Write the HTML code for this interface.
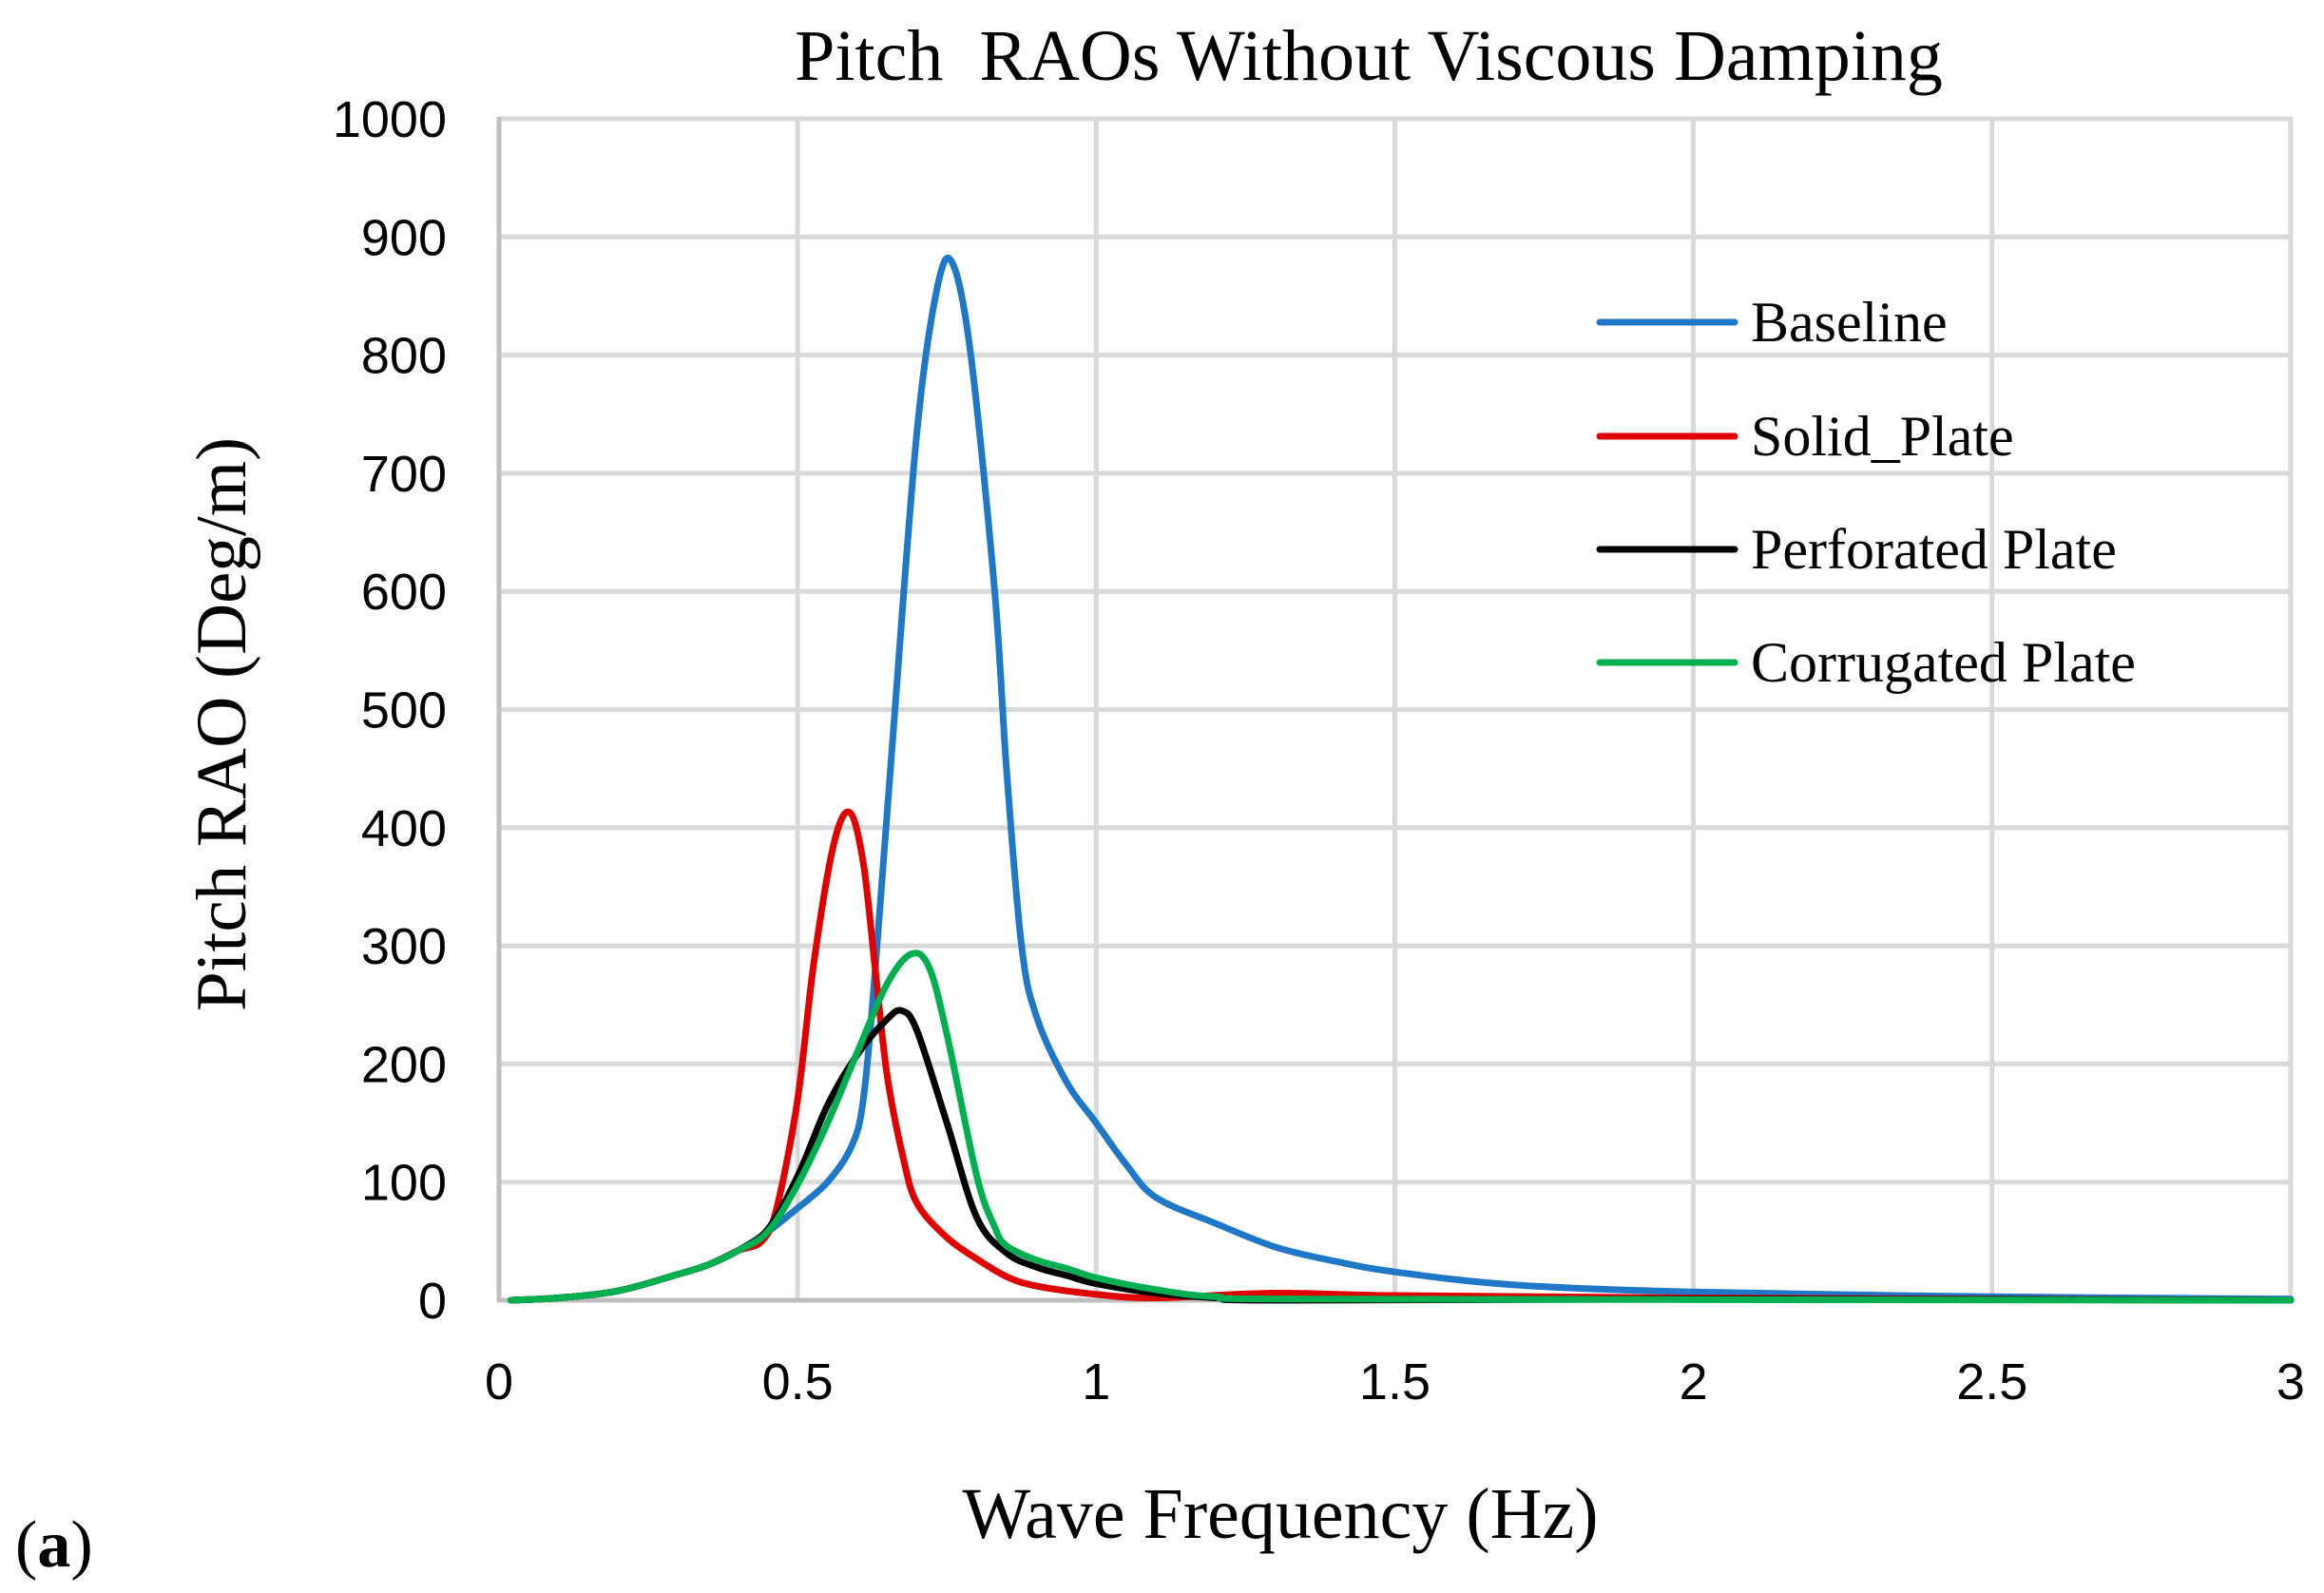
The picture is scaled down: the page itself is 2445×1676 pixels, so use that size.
<!DOCTYPE html>
<html><head><meta charset="utf-8"><style>
html,body{margin:0;padding:0;background:#fff;}
svg{display:block;}
</style></head><body>
<svg id="c" width="2445" height="1676" xmlns="http://www.w3.org/2000/svg">
<g id="grid"></g>
<g id="series" fill="none" stroke-width="7" stroke-linejoin="round" stroke-linecap="round"></g>
<text x="1440" y="84" font-family="Liberation Serif, serif" font-size="76" text-anchor="middle" xml:space="preserve">Pitch  RAOs Without Viscous Damping</text>
<text transform="translate(258,762) rotate(-90)" font-family="Liberation Serif, serif" font-size="75" text-anchor="middle">Pitch RAO (Deg/m)</text>
<text x="1347" y="1618" font-family="Liberation Serif, serif" font-size="76" text-anchor="middle">Wave Frequency (Hz)</text>
<text x="16" y="1648" font-family="Liberation Serif, serif" font-size="70"><tspan>(</tspan><tspan font-weight="bold">a</tspan><tspan>)</tspan></text>
<g font-family="Liberation Serif, serif" font-size="60">
<line x1="1683" y1="339" x2="1825" y2="339" stroke="#1f77c8" stroke-width="7" stroke-linecap="round"/>
<text x="1842" y="359">Baseline</text>
<line x1="1683" y1="459" x2="1825" y2="459" stroke="#e00000" stroke-width="7" stroke-linecap="round"/>
<text x="1842" y="479">Solid_Plate</text>
<line x1="1683" y1="578" x2="1825" y2="578" stroke="#000" stroke-width="7" stroke-linecap="round"/>
<text x="1842" y="598">Perforated Plate</text>
<line x1="1683" y1="697" x2="1825" y2="697" stroke="#00b050" stroke-width="7" stroke-linecap="round"/>
<text x="1842" y="717">Corrugated Plate</text>
</g>
</svg>
<script>
const NS="http://www.w3.org/2000/svg";
const X=f=>525+628.3*f, Y=v=>1368-1.243*v;
const g=document.getElementById('grid'), s=document.getElementById('series');
function el(p,t,a,txt){const e=document.createElementNS(NS,t);for(const k in a)e.setAttribute(k,a[k]);if(txt!==undefined)e.textContent=txt;p.appendChild(e);return e;}
for(let i=1;i<=10;i++)el(g,'line',{x1:525,x2:2412,y1:Y(i*100),y2:Y(i*100),stroke:'#d9d9d9','stroke-width':5});
for(let i=1;i<=6;i++)el(g,'line',{x1:X(i*0.5),x2:X(i*0.5),y1:123,y2:1368,stroke:'#d9d9d9','stroke-width':5});
el(g,'line',{x1:525,x2:525,y1:123,y2:1370,stroke:'#bfbfbf','stroke-width':5});
el(g,'line',{x1:523,x2:2412,y1:1368,y2:1368,stroke:'#bfbfbf','stroke-width':5});
for(let i=0;i<=10;i++)el(g,'text',{x:470,y:Y(i*100)+19,'font-family':'Liberation Sans, sans-serif','font-size':54,'text-anchor':'end'},String(i*100));
['0','0.5','1','1.5','2','2.5','3'].forEach((t,i)=>el(g,'text',{x:X(i*0.5),y:1472,'font-family':'Liberation Sans, sans-serif','font-size':54,'text-anchor':'middle'},t));
const low=[[0.02,0],[0.1,2],[0.2,8],[0.3,22],[0.35,30],[0.4,42]];
const data={
'#1f77c8':low.concat([[0.45,58],[0.5,78],[0.55,100],[0.59,130],[0.61,170],[0.63,280],[0.66,480],[0.7,736],[0.735,860],[0.76,877],[0.79,800],[0.83,600],[0.85,448],[0.875,300],[0.9,240],[0.95,185],[1.0,150],[1.05,115],[1.1,87],[1.2,65],[1.3,45],[1.4,33],[1.5,24],[1.7,13],[2.0,7],[2.5,3],[3.0,1]]),
'#e00000':low.concat([[0.44,50],[0.465,78],[0.5,170],[0.527,285],[0.56,385],[0.587,413],[0.61,370],[0.63,280],[0.65,190],[0.677,120],[0.7,82],[0.75,53],[0.8,35],[0.85,20],[0.9,12],[1.0,5],[1.1,2],[1.3,6],[1.5,4],[2.0,2],[3.0,0]]),
'#000000':low.concat([[0.45,60],[0.5,105],[0.55,165],[0.6,208],[0.65,238],[0.675,245],[0.7,228],[0.75,150],[0.8,70],[0.85,40],[0.9,28],[0.95,21],[1.0,14],[1.1,6],[1.2,2],[1.3,0],[2.0,1],[3.0,0]]),
'#00b050':low.concat([[0.45,58],[0.5,98],[0.55,150],[0.6,210],[0.65,268],[0.69,293],[0.72,282],[0.75,225],[0.8,105],[0.83,62],[0.85,46],[0.9,34],[0.95,27],[1.0,19],[1.1,9],[1.2,3],[1.4,1],[3.0,0]])};
for(const c in data){const p=data[c].map(d=>[X(d[0]),Y(d[1])]);let d='M'+p[0][0]+','+p[0][1];
for(let i=0;i<p.length-1;i++){const p0=p[Math.max(0,i-1)],p1=p[i],p2=p[i+1],p3=p[Math.min(p.length-1,i+2)];
const c1=[p1[0]+(p2[0]-p0[0])/6,p1[1]+(p2[1]-p0[1])/6],c2=[p2[0]-(p3[0]-p1[0])/6,p2[1]-(p3[1]-p1[1])/6];
d+=`C${c1[0]},${c1[1]} ${c2[0]},${c2[1]} ${p2[0]},${p2[1]}`;}
el(s,'path',{d:d,stroke:c});}
</script>
</body></html>
